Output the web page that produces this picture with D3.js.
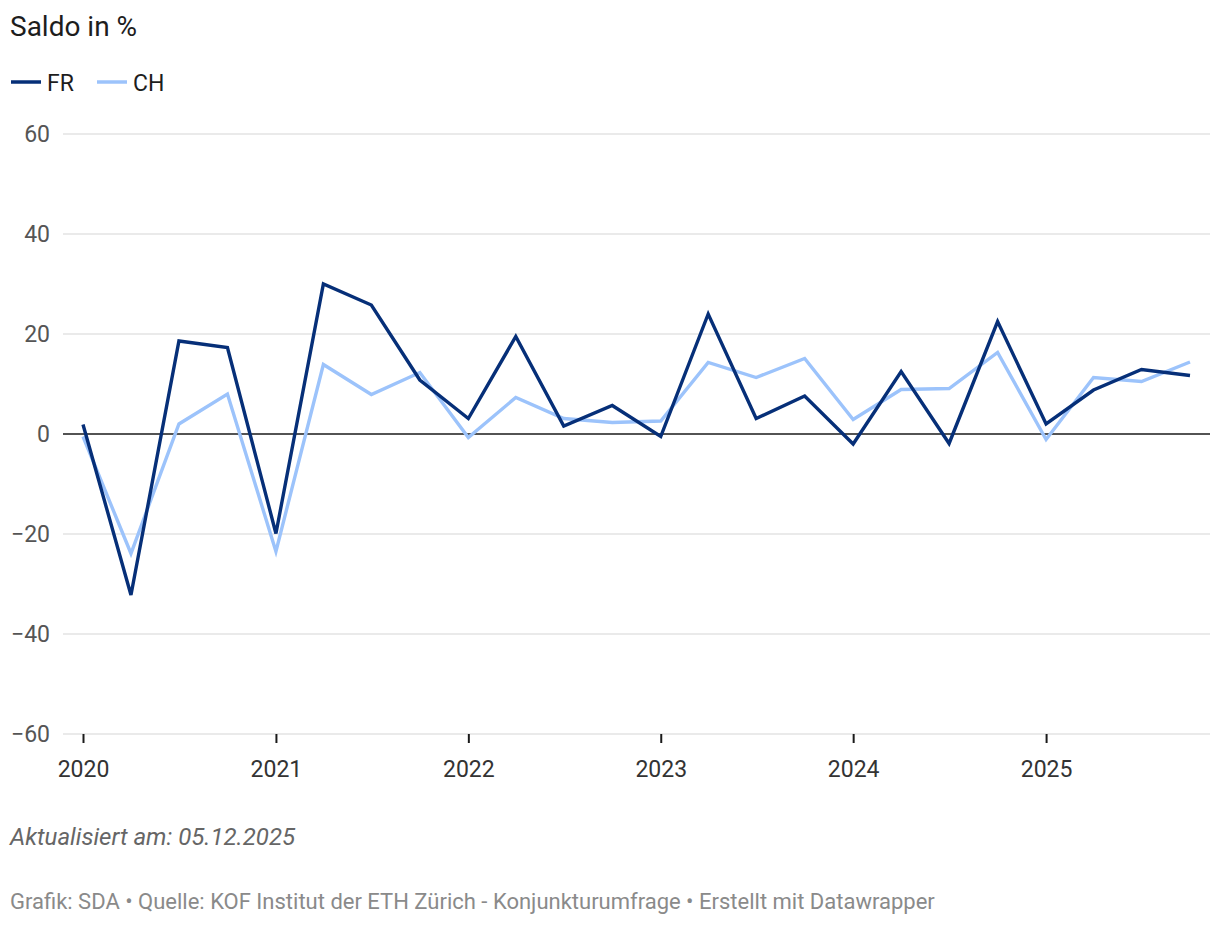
<!DOCTYPE html>
<html>
<head>
<meta charset="utf-8">
<script src="https://cdn.jsdelivr.net/npm/d3@7"></script>
<style>
  body { margin: 0; background: #fff; font-family: Roboto, "Noto Sans", sans-serif; }
</style>
</head>
<body>
<svg id="chart" width="1220" height="926"></svg>
<script>
// quarterly survey balances, 2020 Q1 .. 2025 Q4
const quarters = [
  "2020-01-01", "2020-04-01", "2020-07-01", "2020-10-01",
  "2021-01-01", "2021-04-01", "2021-07-01", "2021-10-01",
  "2022-01-01", "2022-04-01", "2022-07-01", "2022-10-01",
  "2023-01-01", "2023-04-01", "2023-07-01", "2023-10-01",
  "2024-01-01", "2024-04-01", "2024-07-01", "2024-10-01",
  "2025-01-01", "2025-04-01", "2025-07-01", "2025-10-01"
];
const frValues = [1.9, -32.2, 18.6, 17.3, -19.9, 30, 25.8, 10.8,
  3.1, 19.5, 1.6, 5.7, -0.5, 24, 3.1, 7.6,
  -2, 12.5, -1.9, 22.5, 2, 8.8, 12.9, 11.7];
const chValues = [-0.5, -23.9, 2, 8, -23.5, 13.9, 7.9, 12.3,
  -0.7, 7.3, 3.1, 2.3, 2.6, 14.3, 11.3, 15.1,
  2.9, 8.9, 9.1, 16.3, -1.1, 11.3, 10.5, 14.4];
const yTicks = [-60, -40, -20, 0, 20, 40, 60];
const yearTicks = ["2020", "2021", "2022", "2023", "2024", "2025"];

const series = [
  { name: "FR", values: frValues, color: "#062f78" },
  { name: "CH", values: chValues, color: "#9cc3fb" }
];

const parse = d3.timeParse("%Y-%m-%d");
const dates = quarters.map(parse);

const svg = d3.select("#chart");
const gridLeft = 63, gridRight = 1210;

const x = d3.scaleTime()
  .domain([dates[0], dates[dates.length - 1]])
  .range([83, 1190]);

const y = d3.scaleLinear()
  .domain([-60, 60])
  .range([734, 134]);

// title
svg.append("text")
  .attr("x", 10).attr("y", 36)
  .style("font-size", "28px")
  .style("fill", "#1d1d1d")
  .text("Saldo in %");

// legend
const legend = svg.append("g").attr("transform", "translate(11,82)");
[0, 86].forEach((lx, i) => {
  const s = series[i];
  legend.append("line")
    .attr("x1", lx).attr("x2", lx + 30)
    .attr("y1", 0).attr("y2", 0)
    .attr("stroke", s.color)
    .attr("stroke-width", 3.5);
  legend.append("text")
    .attr("x", lx + 36).attr("y", 8.5)
    .style("font-size", "23px")
    .style("fill", "#1d1d1d")
    .text(s.name);
});

// y grid + labels
const yAxis = svg.append("g");
yTicks.forEach(v => {
  yAxis.append("line")
    .attr("x1", gridLeft).attr("x2", gridRight)
    .attr("y1", y(v)).attr("y2", y(v))
    .attr("stroke", v === 0 ? "#1a1a1a" : "#d6d6d6")
    .attr("stroke-width", v === 0 ? 1.5 : 1.2);
  yAxis.append("text")
    .attr("x", 50).attr("y", y(v) + 8)
    .attr("text-anchor", "end")
    .style("font-size", "23px")
    .style("fill", "#555")
    .text(v < 0 ? "\u2212" + Math.abs(v) : v);
});

// x axis ticks
const xAxis = svg.append("g")
  .attr("transform", `translate(0,${y(-60)})`)
  .call(d3.axisBottom(x)
    .tickValues(yearTicks.map(yr => parse(yr + "-01-01")))
    .tickFormat(d3.timeFormat("%Y"))
    .tickSize(9)
    .tickPadding(18));
xAxis.select(".domain").remove();
xAxis.selectAll(".tick line").attr("stroke", "#1a1a1a").attr("stroke-width", 2);
xAxis.selectAll(".tick text")
  .style("font-family", "Roboto, sans-serif")
  .style("font-size", "23px")
  .style("fill", "#333");

// lines (CH first so FR sits on top)
const line = d3.line()
  .x((d, i) => x(dates[i]))
  .y(d => y(d));

[series[1], series[0]].forEach(s => {
  svg.append("path")
    .datum(s.values)
    .attr("fill", "none")
    .attr("stroke", s.color)
    .attr("stroke-width", 3.4)
    .attr("d", line);
});

// notes
svg.append("text")
  .attr("x", 10).attr("y", 845)
  .style("font-size", "24px")
  .style("font-style", "italic")
  .style("fill", "#666")
  .text("Aktualisiert am: 05.12.2025");

svg.append("text")
  .attr("x", 10).attr("y", 909)
  .style("font-size", "22px")
  .style("fill", "#8a8a8a")
  .text("Grafik: SDA \u2022 Quelle: KOF Institut der ETH Zürich - Konjunkturumfrage \u2022 Erstellt mit Datawrapper");
</script>
</body>
</html>
